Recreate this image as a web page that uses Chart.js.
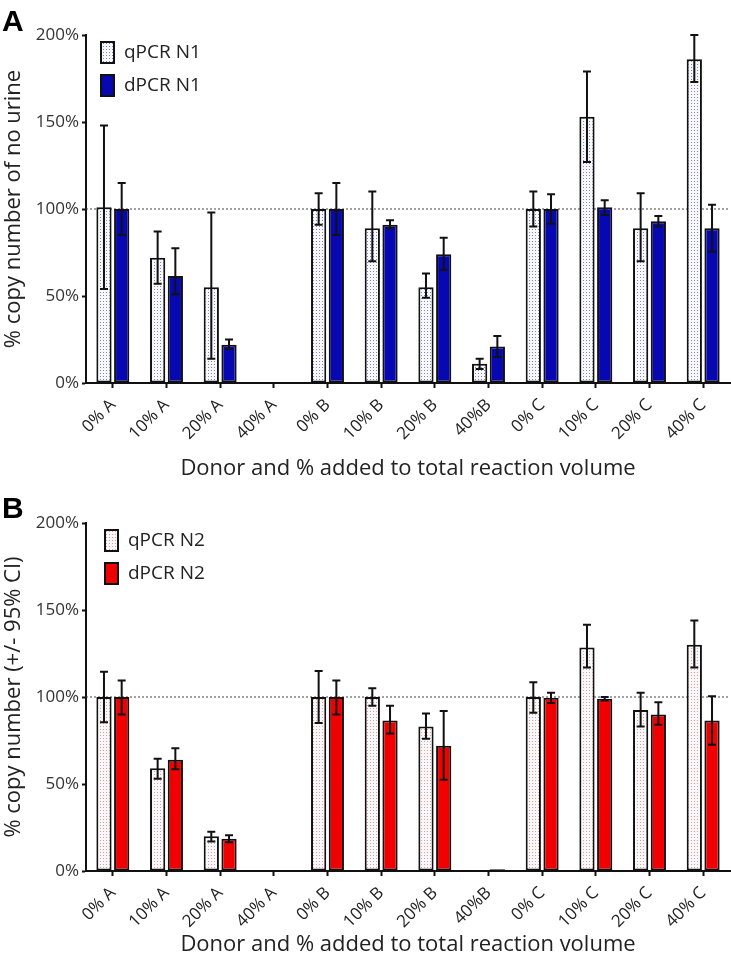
<!DOCTYPE html>
<html>
<head>
<meta charset="utf-8">
<script src="https://cdn.jsdelivr.net/npm/chart.js@4.4.1/dist/chart.umd.min.js"></script>
<style>
  body { margin: 0; background: #fff; }
  #wrap { position: relative; width: 731px; height: 965px; }
  canvas { position: absolute; left: 0; }
  .panel { position: absolute; left: 2px; font: bold 30px 'Liberation Sans', Arial, sans-serif; line-height: 30px; color: #000; }
</style>
</head>
<body>
<div id="wrap">
  <canvas id="chartA" width="731" height="482" style="top:0"></canvas>
  <canvas id="chartB" width="731" height="483" style="top:482px"></canvas>
  <div class="panel" style="top:6px">A</div>
  <div class="panel" style="top:493px">B</div>
</div>
<script>
// categories (x axis)
const categories = ['0% A', '10% A', '20% A', '40% A', '0% B', '10% B', '20% B', '40%B', '0% C', '10% C', '20% C', '40% C'];
const yTicks = [0, 50, 100, 150, 200];

// Panel A - N1 (% of no urine)
const qN1   = [101, 72, 55, null, 100, 89, 55, 11, 100, 153, 89, 186];
const qN1Lo = [54, 57, 14, null, 91, 70, 49, 8, 90, 127, 70, 173];
const qN1Hi = [148, 87, 98, null, 109, 110, 63, 14, 110, 179, 109, 200];
const dN1   = [100, 61.5, 22, null, 100, 91, 74, 21, 100, 101, 93, 89];
const dN1Lo = [85, 51, 19.5, null, 85, 89, 65, 15, 91.5, 96.5, 90, 75.5];
const dN1Hi = [115, 77.5, 25, null, 115, 93.5, 83.5, 27, 108.5, 105, 96, 102.5];

// Panel B - N2
const qN2   = [100, 59, 20, null, 100, 100, 83, null, 100, 128.5, 92.5, 130];
const qN2Lo = [85.5, 53, 17, null, 85, 95, 76, null, 91, 117, 83, 117];
const qN2Hi = [114.5, 64.5, 22.5, null, 115, 105, 90.5, null, 108.5, 141.5, 102.5, 144];
const dN2   = [100, 64, 18.5, null, 100, 86.5, 72, 1, 99.5, 99, 90, 86.5];
const dN2Lo = [90, 58.5, 16.5, null, 90, 79, 52.5, null, 96.5, 98, 84, 72.5];
const dN2Hi = [109.5, 70.5, 20.5, null, 109.5, 95, 92, null, 102.5, 100, 97, 100.5];

Chart.defaults.font.family = "'Open Sans', sans-serif";
Chart.defaults.color = '#222';

// small dotted fill for the qPCR bars
function dotPattern(dotColor) {
  const c = document.createElement('canvas');
  c.width = 3; c.height = 3;
  const g = c.getContext('2d');
  g.fillStyle = '#f8f8fb';
  g.fillRect(0, 0, 3, 3);
  g.fillStyle = dotColor;
  g.fillRect(1, 1, 1, 1);
  return g.createPattern(c, 'repeat');
}

// dotted reference line at 100%
const refLine = {
  id: 'refLine',
  beforeDatasetsDraw(chart) {
    const { ctx, chartArea } = chart;
    const y = chart.scales.y.getPixelForValue(100);
    ctx.save();
    ctx.strokeStyle = '#444';
    ctx.lineWidth = 1;
    ctx.setLineDash([2, 2]);
    ctx.beginPath();
    ctx.moveTo(chartArea.left, y);
    ctx.lineTo(chartArea.right, y);
    ctx.stroke();
    ctx.restore();
  }
};

// error bars from errLo / errHi on each dataset
const errorBars = {
  id: 'errorBars',
  afterDatasetsDraw(chart) {
    const { ctx } = chart;
    const yScale = chart.scales.y;
    ctx.save();
    ctx.strokeStyle = '#111';
    ctx.lineWidth = 2;
    chart.data.datasets.forEach((ds, i) => {
      const meta = chart.getDatasetMeta(i);
      meta.data.forEach((bar, j) => {
        const lo = ds.errLo[j], hi = ds.errHi[j];
        if (lo == null || hi == null) return;
        const x = bar.x;
        const yl = yScale.getPixelForValue(lo);
        const yh = yScale.getPixelForValue(hi);
        ctx.beginPath();
        ctx.moveTo(x, yl); ctx.lineTo(x, yh);
        ctx.moveTo(x - 4, yl); ctx.lineTo(x + 4, yl);
        ctx.moveTo(x - 4, yh); ctx.lineTo(x + 4, yh);
        ctx.stroke();
      });
    });
    ctx.restore();
  }
};

// legend inside the plot, top left
const boxLegend = {
  id: 'boxLegend',
  afterDraw(chart, args, opts) {
    const { ctx, chartArea } = chart;
    ctx.save();
    ctx.font = "19px 'Open Sans', sans-serif";
    ctx.textBaseline = 'middle';
    chart.data.datasets.forEach((ds, i) => {
      const x = chartArea.left + opts.dx;
      const y = chartArea.top + opts.dy + i * 33;
      ctx.fillStyle = ds.backgroundColor;
      ctx.fillRect(x, y, 13, 21);
      ctx.strokeStyle = '#111';
      ctx.lineWidth = 2;
      ctx.strokeRect(x, y, 13, 21);
      ctx.fillStyle = '#222';
      ctx.fillText(ds.label, x + 23, y + 11);
    });
    ctx.restore();
  }
};

function makeChart(id, cfg) {
  const H = document.getElementById(id).height;
  return new Chart(document.getElementById(id), {
    type: 'bar',
    data: {
      labels: categories,
      datasets: [
        { label: cfg.qLabel, data: cfg.q, errLo: cfg.qLo, errHi: cfg.qHi,
          backgroundColor: dotPattern(cfg.dot), borderColor: '#111', borderWidth: 2, borderSkipped: false },
        { label: cfg.dLabel, data: cfg.d, errLo: cfg.dLo, errHi: cfg.dHi,
          backgroundColor: cfg.fill, borderColor: '#111', borderWidth: 2, borderSkipped: false }
      ]
    },
    options: {
      responsive: false,
      animation: false,
      devicePixelRatio: 1,
      layout: { padding: { top: cfg.top, right: 1, left: 0, bottom: 0 } },
      datasets: { bar: { categoryPercentage: 0.66, barPercentage: 0.86 } },
      plugins: {
        legend: { display: false },
        tooltip: { enabled: false },
        boxLegend: { dx: cfg.legDx, dy: 7 }
      },
      scales: {
        x: {
          afterFit(scale) { scale.height = H - cfg.bottom; },
          grid: { offset: false, drawOnChartArea: false, drawTicks: true, tickLength: 5, tickColor: '#111', tickWidth: 2 },
          border: { display: true, color: '#111', width: 2 },
          ticks: { font: { size: 17 }, color: '#222', maxRotation: 45, minRotation: 45, padding: 7 },
          title: { display: true, text: 'Donor and % added to total reaction volume', font: { size: 22 }, color: '#222', padding: { top: 0, bottom: cfg.titlePad } }
        },
        y: {
          min: 0, max: 200,
          afterFit(scale) { scale.width = 86; },
          afterBuildTicks(scale) { scale.ticks = yTicks.map(v => ({ value: v })); },
          grid: { drawOnChartArea: false, drawTicks: true, tickLength: 4, tickColor: '#111', tickWidth: 2 },
          border: { display: true, color: '#111', width: 2 },
          ticks: { font: { size: 17 }, color: '#333', padding: 3, callback: v => v + '%' },
          title: { display: true, text: cfg.yTitle, font: { size: 22 }, color: '#222', padding: { top: 1, bottom: 0 } }
        }
      }
    },
    plugins: [refLine, errorBars, boxLegend]
  });
}

makeChart('chartA', {
  qLabel: 'qPCR N1', dLabel: 'dPCR N1',
  q: qN1, qLo: qN1Lo, qHi: qN1Hi, d: dN1, dLo: dN1Lo, dHi: dN1Hi,
  dot: '#7d84c8', fill: '#0808b2',
  yTitle: '% copy number of no urine',
  top: 35, bottom: 383, titlePad: 0, legDx: 15
});

makeChart('chartB', {
  qLabel: 'qPCR N2', dLabel: 'dPCR N2',
  q: qN2, qLo: qN2Lo, qHi: qN2Hi, d: dN2, dLo: dN2Lo, dHi: dN2Hi,
  dot: '#e49a9a', fill: '#f00000',
  yTitle: '% copy number (+/- 95% CI)',
  top: 41, bottom: 389, titlePad: 7, legDx: 19
});
</script>
</body>
</html>
